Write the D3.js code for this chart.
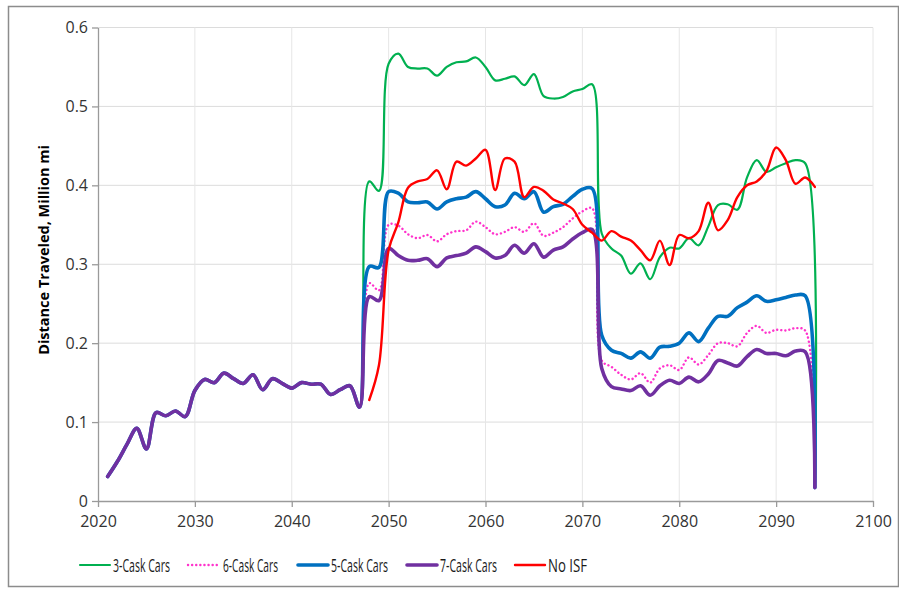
<!DOCTYPE html>
<html>
<head>
<meta charset="utf-8">
<script src="https://cdn.jsdelivr.net/npm/d3@7"></script>
<style>
  body { margin: 0; background: #fff; }
  text { font-family: "Open Sans", "Noto Sans", sans-serif; fill: #404040; }
</style>
</head>
<body>
<script>
// Width and height of the svg
var width = 899;
var height = 590;

// Years with data
var years = d3.range(2021, 2095);

// 2021-2047: all cask series are the same
var common = [0.031, 0.050, 0.072, 0.092, 0.066, 0.112, 0.108, 0.114, 0.107, 0.140,
              0.154, 0.150, 0.162, 0.155, 0.149, 0.160, 0.141, 0.155, 0.149, 0.143,
              0.150, 0.148, 0.148, 0.135, 0.141, 0.146, 0.119];

// 2048-2094 for each series
var cask3 = [0.405, 0.393, 0.554, 0.567, 0.550, 0.548, 0.548, 0.539, 0.550, 0.556,
             0.557, 0.562, 0.550, 0.533, 0.535, 0.538, 0.527, 0.541, 0.513, 0.510,
             0.512, 0.519, 0.522, 0.528, 0.339, 0.320, 0.311, 0.288, 0.301, 0.281,
             0.309, 0.321, 0.320, 0.333, 0.324, 0.348, 0.375, 0.376, 0.369, 0.410,
             0.432, 0.417, 0.423, 0.428, 0.432, 0.428, 0.017];
var cask6 = [0.276, 0.267, 0.350, 0.349, 0.338, 0.333, 0.337, 0.329, 0.338, 0.342,
             0.343, 0.354, 0.347, 0.338, 0.341, 0.347, 0.341, 0.352, 0.336, 0.340,
             0.347, 0.358, 0.367, 0.371, 0.178, 0.170, 0.160, 0.154, 0.162, 0.150,
             0.168, 0.172, 0.166, 0.182, 0.173, 0.185, 0.200, 0.200, 0.196, 0.213,
             0.222, 0.213, 0.217, 0.216, 0.219, 0.216, 0.017];
var cask5 = [0.297, 0.296, 0.392, 0.390, 0.379, 0.378, 0.379, 0.370, 0.379, 0.383,
             0.385, 0.392, 0.383, 0.373, 0.375, 0.390, 0.383, 0.392, 0.366, 0.373,
             0.376, 0.386, 0.395, 0.396, 0.210, 0.191, 0.187, 0.181, 0.189, 0.181,
             0.195, 0.196, 0.200, 0.213, 0.202, 0.219, 0.234, 0.234, 0.245, 0.252,
             0.260, 0.253, 0.255, 0.258, 0.261, 0.260, 0.017];
var cask7 = [0.259, 0.254, 0.320, 0.311, 0.305, 0.305, 0.307, 0.297, 0.308, 0.311,
             0.314, 0.322, 0.316, 0.308, 0.311, 0.324, 0.314, 0.326, 0.309, 0.318,
             0.322, 0.332, 0.340, 0.344, 0.168, 0.145, 0.142, 0.140, 0.146, 0.134,
             0.146, 0.153, 0.149, 0.157, 0.151, 0.161, 0.178, 0.175, 0.171, 0.183,
             0.192, 0.187, 0.187, 0.184, 0.190, 0.189, 0.017];
// No ISF starts in 2048
var noISF = [0.128, 0.172, 0.318, 0.353, 0.397, 0.405, 0.408, 0.419, 0.395, 0.430,
             0.425, 0.434, 0.445, 0.394, 0.434, 0.430, 0.385, 0.398, 0.393, 0.382,
             0.377, 0.370, 0.350, 0.340, 0.330, 0.342, 0.335, 0.330, 0.318, 0.305,
             0.330, 0.299, 0.337, 0.333, 0.342, 0.378, 0.343, 0.356, 0.385, 0.400,
             0.405, 0.418, 0.448, 0.432, 0.402, 0.410, 0.398];

var seriesNames = ["3-Cask Cars", "6-Cask Cars", "5-Cask Cars", "7-Cask Cars", "No ISF"];
var xTicks = [2020, 2030, 2040, 2050, 2060, 2070, 2080, 2090, 2100];
var yTicks = [0, 0.1, 0.2, 0.3, 0.4, 0.5, 0.6];

// Line styles per series
var colors = ["#00b050", "#ff33cc", "#0070c0", "#7030a0", "#ff0000"];
var widths = [2.2, 2.4, 3.6, 3.6, 2.4];
var dashes = [null, "0.1 4", null, null, null];

var series = [
    common.concat(cask3),
    common.concat(cask6),
    common.concat(cask5),
    common.concat(cask7),
    common.map(function() { return null; }).concat(noISF)
];

var svg = d3.select("body")
            .append("svg")
            .attr("width", width)
            .attr("height", height);

// Outer frame
svg.append("rect")
    .attr("x", 8.5)
    .attr("y", 6.5)
    .attr("width", 890)
    .attr("height", 580)
    .style("fill", "none")
    .style("stroke", "#8c8c8c")
    .style("stroke-width", 1.5);

var x = d3.scaleLinear().domain([2020, 2100]).range([98, 873]);
var y = d3.scaleLinear().domain([0, 0.6]).range([501, 27.5]);

// Gridlines
svg.selectAll("line.hgrid")
    .data(yTicks.slice(1))
    .enter()
    .append("line")
    .attr("x1", x(2020)).attr("x2", x(2100))
    .attr("y1", function(d) { return y(d); })
    .attr("y2", function(d) { return y(d); })
    .style("stroke", "#dcdcdc")
    .style("stroke-width", 1);

svg.selectAll("line.vgrid")
    .data(xTicks.slice(1))
    .enter()
    .append("line")
    .attr("y1", y(0)).attr("y2", y(0.6))
    .attr("x1", function(d) { return x(d); })
    .attr("x2", function(d) { return x(d); })
    .style("stroke", "#e6e6e6")
    .style("stroke-width", 1);

// Axes
var xAxis = svg.append("g")
    .attr("transform", "translate(0," + y(0) + ")")
    .call(d3.axisBottom(x).tickValues(xTicks).tickFormat(d3.format("d")).tickSizeInner(6).tickSizeOuter(0));
var yAxis = svg.append("g")
    .attr("transform", "translate(" + x(2020) + ",0)")
    .call(d3.axisLeft(y).tickValues(yTicks).tickFormat(function(d) { return d === 0 ? "0" : d3.format(".1f")(d); }).tickSizeInner(6).tickSizeOuter(0));

[xAxis, yAxis].forEach(function(g) {
    g.select(".domain").style("stroke", "#9a9a9a").style("stroke-width", 1.3);
    g.selectAll(".tick line").style("stroke", "#9a9a9a").style("stroke-width", 1.3);
    g.selectAll(".tick text")
        .style("font-family", "'Open Sans', sans-serif")
        .style("font-size", "16px")
        .style("fill", "#333");
});
xAxis.selectAll(".tick text").attr("dy", "1.05em");
yAxis.selectAll(".tick text").attr("x", -10);

// Axis title
svg.append("text")
    .attr("transform", "translate(49," + 250 + ") rotate(-90)")
    .attr("text-anchor", "middle")
    .style("font-weight", "bold")
    .style("font-size", "14.5px")
    .style("fill", "#000")
    .text("Distance Traveled, Million mi");

// Lines, smoothed like the spreadsheet
var line = d3.line()
    .defined(function(d) { return d != null; })
    .x(function(d, i) { return x(years[i]); })
    .y(function(d) { return y(d); })
    .curve(d3.curveCatmullRom.alpha(0.5));

svg.selectAll("path.series")
    .data(series)
    .enter()
    .append("path")
    .attr("class", "series")
    .attr("d", line)
    .style("fill", "none")
    .style("stroke", function(d, i) { return colors[i]; })
    .style("stroke-width", function(d, i) { return widths[i]; })
    .style("stroke-dasharray", function(d, i) { return dashes[i]; })
    .style("stroke-linecap", "round")
    .style("stroke-linejoin", "round");

// Legend
var legendX = [80, 188, 298, 407, 515];
var legendTextW = [57, 55, 57, 57, 39];
var legend = svg.selectAll("g.legend")
    .data(seriesNames)
    .enter()
    .append("g")
    .attr("class", "legend")
    .attr("transform", function(d, i) { return "translate(" + legendX[i] + ",565)"; });

legend.append("line")
    .attr("x1", 0).attr("x2", 30)
    .attr("y1", 0).attr("y2", 0)
    .style("stroke", function(d, i) { return colors[i]; })
    .style("stroke-width", function(d, i) { return widths[i]; })
    .style("stroke-dasharray", function(d, i) { return dashes[i]; })
    .style("stroke-linecap", "round");

legend.append("text")
    .attr("x", function(d, i) { return i === 1 ? 35 : 33; })
    .attr("y", 6.5)
    .attr("textLength", function(d, i) { return legendTextW[i]; })
    .attr("lengthAdjust", "spacingAndGlyphs")
    .style("font-size", "18.5px")
    .style("fill", "#1a1a1a")
    .text(function(d) { return d; });
</script>
</body>
</html>
